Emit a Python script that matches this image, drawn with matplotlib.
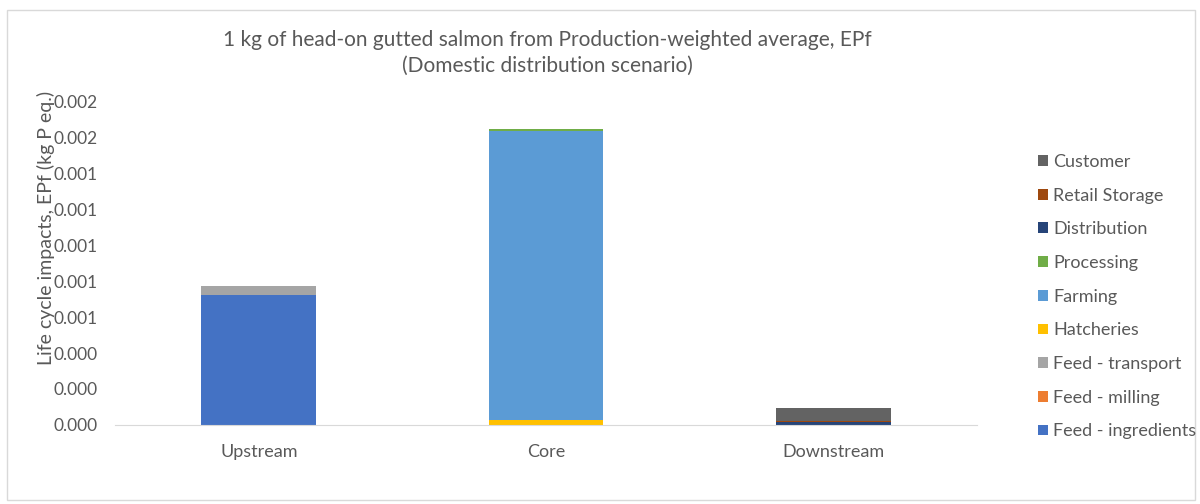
import numpy as np
import matplotlib.pyplot as plt
from matplotlib.patches import Rectangle
from matplotlib.ticker import MultipleLocator, FuncFormatter

plt.rcParams['font.family'] = ['Lato', 'DejaVu Sans']

stages = ['Upstream', 'Core', 'Downstream']

# contributions per life cycle stage (kg P eq.)
feed_ingredients = [0.000725, 0.0, 0.0]
feed_milling = [0.000001, 0.0, 0.0]
feed_transport = [0.000045, 0.0, 0.0]
hatcheries = [0.0, 0.000026, 0.0]
farming = [0.0, 0.001613, 0.0]
processing = [0.0, 0.0000095, 0.0]
distribution = [0.0, 0.0, 0.000015]
retail_storage = [0.0, 0.0, 0.000009]
customer = [0.0, 0.0, 0.000069]

series = [
    ('Feed - ingredients', feed_ingredients, '#4472C4'),
    ('Feed - milling', feed_milling, '#ED7D31'),
    ('Feed - transport', feed_transport, '#A5A5A5'),
    ('Hatcheries', hatcheries, '#FFC000'),
    ('Farming', farming, '#5B9BD5'),
    ('Processing', processing, '#70AD47'),
    ('Distribution', distribution, '#264478'),
    ('Retail Storage', retail_storage, '#9E480E'),
    ('Customer', customer, '#636363'),
]

fig = plt.figure(figsize=(12, 5.04), dpi=100)
ax = fig.add_axes([0.096, 0.157, 0.718, 0.641])

x = np.arange(len(stages))
bottom = np.zeros(len(stages))
for name, vals, col in series:
    ax.bar(x, vals, 0.4, bottom=bottom, color=col, label=name)
    bottom += np.array(vals)

ax.set_xlim(-0.5, 2.5)
ax.set_ylim(0, 0.0018)
ax.yaxis.set_major_locator(MultipleLocator(0.0002))
ax.yaxis.set_major_formatter(FuncFormatter(lambda v, p: f'{v:.3f}'))
ax.set_xticks(x)
ax.set_xticklabels(stages)
ax.tick_params(axis='y', length=0, pad=13, labelsize=12.5, colors='#595959')
ax.tick_params(axis='x', length=0, pad=14, labelsize=13, colors='#595959')

for s in ['top', 'right', 'left']:
    ax.spines[s].set_visible(False)
ax.spines['bottom'].set_color('#D9D9D9')

ax.set_ylabel('Life cycle impacts, EPf (kg P eq.)', fontsize=14, color='#595959')
ax.yaxis.set_label_coords(-0.07, 0.61)

fig.text(0.456, 0.921, '1 kg of head-on gutted salmon from Production-weighted average, EPf',
         ha='center', va='center', fontsize=15, color='#595959')
fig.text(0.456, 0.869, '(Domestic distribution scenario)',
         ha='center', va='center', fontsize=15, color='#595959')

handles, labels = ax.get_legend_handles_labels()
leg = fig.legend(handles[::-1], labels[::-1], loc='upper left', bbox_to_anchor=(0.859, 0.709),
                 frameon=False, fontsize=13, labelspacing=0.98, handlelength=0.55,
                 handleheight=0.55, handletextpad=0.3, borderaxespad=0)
for t in leg.get_texts():
    t.set_color('#595959')

fig.patches.append(Rectangle((0.006, 0.008), 0.99, 0.972, transform=fig.transFigure,
                             fill=False, edgecolor='#D9D9D9', linewidth=1))

plt.savefig('out.png')
